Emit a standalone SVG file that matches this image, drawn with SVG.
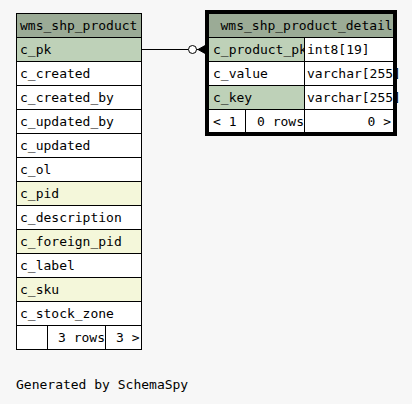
<svg xmlns="http://www.w3.org/2000/svg" width="412" height="404" viewBox="0 0 412 404">
<defs>
<style>
text{font-family:"DejaVu Sans Mono","Liberation Mono",monospace;font-size:13px;fill:#000}
.hd{fill:#9bab96}
.pk{fill:#bed1b8}
.ix{fill:#f4f7da}
.wh{fill:#ffffff}
.ln{stroke:#000;stroke-width:1;fill:none}
.end{text-anchor:end}
</style>
<clipPath id="cName"><rect x="209" y="37" width="95" height="96"/></clipPath>
</defs>
<rect width="412" height="404" fill="#f7f7f7"/>
<g id="connectors">
<line class="ln" x1="141" y1="49.5" x2="188.5" y2="49.5"/>
<circle cx="192.5" cy="49.5" r="4" fill="#fff" stroke="#000" stroke-width="1"/>
<line class="ln" x1="196.5" y1="49.5" x2="206" y2="49.5"/>
<path d="M206,45 L198,49.5 L206,54 Z" fill="#000" stroke="#000" stroke-width="1"/>
</g>
<g id="wms_shp_product">
<rect class="hd" x="16" y="13" width="125" height="24"/>
<rect class="pk" x="16" y="37" width="125" height="24"/>
<rect class="wh" x="16" y="61" width="125" height="120"/>
<rect class="ix" x="16" y="181" width="125" height="24"/>
<rect class="wh" x="16" y="205" width="125" height="24"/>
<rect class="ix" x="16" y="229" width="125" height="24"/>
<rect class="wh" x="16" y="253" width="125" height="24"/>
<rect class="ix" x="16" y="277" width="125" height="24"/>
<rect class="wh" x="16" y="301" width="125" height="48"/>
<rect class="ln" x="16.5" y="13.5" width="125" height="336"/>
<path class="ln" d="M16,37.5H142M16,61.5H142M16,85.5H142M16,109.5H142M16,133.5H142M16,157.5H142M16,181.5H142M16,205.5H142M16,229.5H142M16,253.5H142M16,277.5H142M16,301.5H142M16,325.5H142M47.5,325V349M105.5,325V349"/>
<text x="20" y="30">wms_shp_product</text>
<text x="20" y="54">c_pk</text>
<text x="20" y="78">c_created</text>
<text x="20" y="102">c_created_by</text>
<text x="20" y="126">c_updated_by</text>
<text x="20" y="150">c_updated</text>
<text x="20" y="174">c_ol</text>
<text x="20" y="198">c_pid</text>
<text x="20" y="222">c_description</text>
<text x="20" y="246">c_foreign_pid</text>
<text x="20" y="270">c_label</text>
<text x="20" y="294">c_sku</text>
<text x="20" y="318">c_stock_zone</text>
<text class="end" x="105" y="342">3 rows</text>
<text class="end" x="139.5" y="342">3 &gt;</text>
</g>
<g id="wms_shp_product_detail">
<rect class="hd" x="209" y="13" width="184" height="24"/>
<rect class="pk" x="209" y="37" width="95" height="24"/>
<rect class="wh" x="304" y="37" width="89" height="24"/>
<rect class="wh" x="209" y="61" width="184" height="24"/>
<rect class="pk" x="209" y="85" width="95" height="24"/>
<rect class="wh" x="304" y="85" width="89" height="24"/>
<rect class="wh" x="209" y="109" width="184" height="24"/>
<path class="ln" d="M209,37.5H393M209,61.5H393M209,85.5H393M209,109.5H393M304.5,37V133M245.5,109V133"/>
<text x="220.5" y="30">wms_shp_product_detail</text>
<g clip-path="url(#cName)">
<text x="213" y="54">c_product_pk</text>
<text x="213" y="78">c_value</text>
<text x="213" y="102">c_key</text>
</g>
<text x="307" y="54">int8[19]</text>
<text x="307" y="78">varchar[255]</text>
<text x="307" y="102">varchar[255]</text>
<text x="213" y="126">&lt; 1</text>
<text class="end" x="304" y="126">0 rows</text>
<text class="end" x="391" y="126">0 &gt;</text>
<rect x="207" y="12" width="188" height="122" fill="none" stroke="#000" stroke-width="4"/>
</g>
<text x="16" y="389">Generated by SchemaSpy</text>
</svg>
